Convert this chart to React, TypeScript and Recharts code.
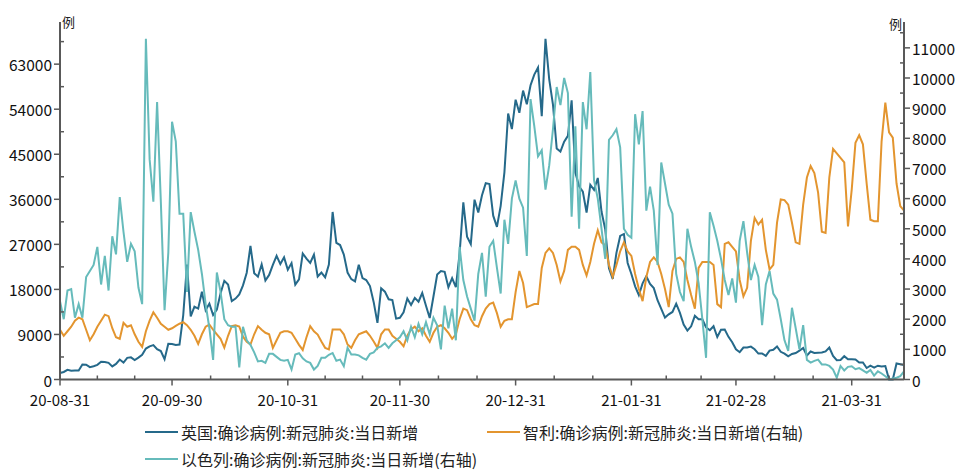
import { LineChart, Line, XAxis, YAxis } from 'recharts'

// x axis: month-end labels, 2020-08-31 is day 0
const monthEndLabels = ['20-08-31', '20-09-30', '20-10-31', '20-11-30', '20-12-31', '21-01-31', '21-02-28', '21-03-31']
const leftMajor = [0, 9000, 18000, 27000, 36000, 45000, 54000, 63000]
const rightMajor = [0, 1000, 2000, 3000, 4000, 5000, 6000, 7000, 8000, 9000, 10000, 11000]

// 英国 (left axis), daily from 2020-08-31 to 2021-04-14
const ukDaily = [
    1295, 1508, 1940, 1735, 1813, 1788, 2988, 2948, 2460, 2659, 2919, 3539, 3497, 3330, 2621, 3105,
    3991, 3395, 4322, 4422, 3899, 4368, 4926, 6178, 6634, 6874, 6042, 5693, 4044, 7143, 7108,
    6914, 6968, 12872, 22961, 12594, 14542, 14162, 17540, 13864, 15166, 12872, 13972, 17234, 19724, 18980,
    15650, 16171, 16982, 18804, 21331, 26688, 21242, 20530, 23012, 19790, 20890, 22885, 24701, 23065, 24405, 21915,
    23254, 18950, 20018, 25177, 24141, 23287, 24957, 20572, 21350, 20412, 22950, 33470, 27301, 26860, 24962,
    21363, 20051, 19609, 22915, 20252, 19875, 18662, 15450, 11299, 18213, 17555, 16022, 15871, 12155, 12330,
    13430, 16170, 14879, 16298, 15539, 17272, 14718, 12282, 16578, 20964, 21672, 21502, 18447, 20263, 18450,
    25161, 35383, 28507, 27052, 35928, 33364, 36804, 39237, 39036, 32725, 30501, 34693, 41385, 53135, 50023, 55892,
    53285, 57725, 54990, 58784, 60916, 62322, 52618, 68053, 59937, 54940, 46169, 45533, 47525, 48682, 55761,
    41346, 38598, 37535, 33355, 38905, 37892, 40261, 33552, 30004, 22195, 20089, 25308, 28680, 29079, 23275, 21088,
    18607, 16840, 19202, 20634, 19114, 18262, 15845, 14104, 12364, 13013, 13494, 15144, 13308, 10972,
    9765, 10625, 12718, 12057, 12027, 10406, 9834, 10641, 8489, 9938, 9985, 8523, 7434, 6035,
    5455, 6391, 6385, 6573, 6040, 5177, 5200, 4712, 5766, 5926, 6609, 5534, 5177, 4618, 5089,
    5294, 5758, 6303, 4802, 5587, 5312, 5342, 5379, 5605, 6397, 4715, 3862, 3900, 4654, 4052, 4040,
    4000, 3400, 3400, 2300, 2760, 2380, 2760, 2600, 2700, 0, 0, 3200, 3050, 2900,
]

// 智利 (right axis)
const chileDaily = [
    1650, 1450, 1600, 1750, 1950, 2050, 2000, 1650, 1300, 1500, 1750, 1950, 2150, 2100, 1700, 1400,
    1350, 1880, 1750, 1800, 1500, 1250, 1080, 1600, 1950, 2230, 2050, 1850, 1750, 1650, 1700,
    1780, 1850, 1900, 1800, 1650, 1450, 1180, 1500, 1750, 1820, 1650, 1500, 1350, 1060, 1450,
    1770, 1800, 1760, 1420, 1250, 1160, 1500, 1770, 1650, 1550, 1500, 1050, 1300, 1550, 1600, 1600,
    1550, 1350, 1150, 980, 1400, 1770, 1600, 1490, 1260, 1050, 1000, 1660, 1660, 1660, 1500,
    1160, 1050, 1300, 1500, 1550, 1600, 1450, 1260, 1050, 1500, 1660, 1660, 1450, 1350, 1250,
    1100, 1450, 1660, 1750, 1600, 1700, 1450, 1250, 1550, 1750, 1800, 1700, 1550, 1350, 1500,
    2000, 2350, 2300, 2000, 1800, 1750, 2100, 2350, 2500, 2550, 2200, 1750, 1950, 2000, 2000, 2900,
    3600, 3200, 2400, 2450, 2500, 2500, 3700, 4200, 4350, 4200, 3800, 3250, 3600, 4300,
    4400, 4400, 4300, 3800, 3450, 3900, 4500, 4950, 4550, 4450,
    3800, 3400, 3800, 4250, 4550, 4250, 4100, 3500, 3000, 2600,
    3400, 3900, 4050, 3900, 3500, 3000, 2400, 3600, 4000, 4050,
    3900, 3300, 2800, 2350, 3700, 3900, 3900, 3900, 3800, 2500,
    2400, 4500, 4550, 4400, 4250, 3300, 2760, 3040, 4600, 5360,
    5140, 5300, 4300, 3650, 3800, 5200, 5970, 5950, 5800, 5200,
    4550, 4500, 5800, 6700, 7080, 6850, 6200, 4900, 4860, 6700,
    7650, 7500, 7350, 7200, 5080, 6300, 7850, 8100, 7800, 6500,
    5300, 5250, 5250, 7900, 9180, 8200, 8020, 6500, 5750, 5600,
]

// 以色列 (right axis)
const israelDaily = [
    2600, 2000, 2950, 3000, 2050, 2500, 2050, 3400, 3600, 3800, 4400, 3150, 4100, 2950, 4750, 4150,
    6050, 4900, 3900, 4500, 4250, 3050, 2500, 11300, 7300, 5900, 9200, 5900, 2300, 4200, 8550,
    7900, 5500, 5500, 2900, 5550, 4900, 4300, 3500, 2500, 1700, 650, 3550, 2900, 2000, 1800,
    1750, 1750, 400, 1750, 1300, 1150, 900, 600, 620, 550,
    850, 850, 750, 650, 620, 650, 330, 830, 870, 700,
    600, 550, 330, 450, 720, 720, 820, 880, 620, 660,
    440, 1050, 830, 830, 800, 720, 660, 850, 900, 1050,
    1100, 1200, 1050, 1200, 1300, 1400,
    1600, 1300, 1750, 1400, 1850, 1500, 1900, 1500, 2050, 1800,
    1000, 2450, 1700, 2350, 1300, 4400, 3300, 2750, 2350, 1950,
    3500, 4200, 2750, 4400, 4600, 3700, 2850, 5300, 4500, 6000,
    6600, 6000, 5700, 4100, 9300, 8400, 7400, 7600, 6300, 7100,
    8300, 9700, 9100, 10000, 9500,
    5400, 8400, 5000, 9200, 8300, 10200, 6600, 6000, 5000, 4000,
    7950, 8100, 8300, 7700, 5000, 4800, 4700, 8800, 7800, 8900,
    5600, 6400, 5600, 3800, 7200, 6500, 5800, 5500, 3500, 2900,
    2600, 5000, 4400, 3900, 3200, 2000, 720, 5550, 5100, 4600,
    4000, 3300, 2800, 3350, 2550, 4600, 5250, 4200, 3300, 3800,
    3400, 1800, 3150, 3600, 2850, 2650, 2000, 1300, 950, 2380,
    1700, 1000, 1800, 650, 560, 620, 660, 500, 500, 450,
    330, 60, 450, 300, 420, 440, 340, 380, 300, 220,
    320, 130, 270, 200, 110, 10, 30, 60, 110, 270,
]

const rows = ukDaily.map((uk, day) => ({ day, uk, cl: chileDaily[day], il: israelDaily[day] }))

const DAY_MS = 86400000
const T0 = Date.UTC(2020, 7, 31)
const parseLabel = (s: string) => {
    const [yy, mm, dd] = s.split('-').map(Number)
    return { y: 2000 + yy, m: mm, d: dd }
}
const majorDays = monthEndLabels.map(s => {
    const { y, m, d } = parseLabel(s)
    return (Date.UTC(y, m - 1, d) - T0) / DAY_MS
})
const lastDay = rows.length - 1
// small ticks split every month in thirds
const minorDays: number[] = []
monthEndLabels.forEach((s, i) => {
    const { y, m } = parseLabel(s)
    const next = (Date.UTC(y, m + 1, 0) - T0) / DAY_MS
    const a = majorDays[i]
    for (const f of [1 / 3, 2 / 3]) {
        const t = a + (next - a) * f
        if (t <= lastDay) minorDays.push(t)
    }
})
const xTicks = [...majorDays, ...minorDays].sort((a, b) => a - b)

const withHalves = (major: number[], step: number) => {
    const out: number[] = []
    major.forEach(v => { out.push(v); out.push(v + step / 2) })
    return out
}
const leftTicks = withHalves(leftMajor, 9000)
const rightTicks = withHalves(rightMajor, 1000)

const AXIS = '#595959'
const FONT = "'Noto Sans CJK SC', 'Noto Sans', sans-serif"
const UK_COLOR = '#25698a'
const CL_COLOR = '#e3952f'
const IL_COLOR = '#66bbbb'

function XTick(props: any) {
    const { x, y, payload } = props
    const i = majorDays.indexOf(payload.value)
    if (i < 0) return <line x1={x} y1={y} x2={x} y2={y - 4} stroke={AXIS} strokeWidth={1.5} />
    return (
        <g>
            <line x1={x} y1={y} x2={x} y2={y + 6} stroke={AXIS} strokeWidth={1.5} />
            <text x={x} y={y + 20} textAnchor="middle" dominantBaseline="central" fontSize={15} fontFamily={FONT} fill="#111">
                {monthEndLabels[i]}
            </text>
        </g>
    )
}

function YTick(props: any) {
    const { x, y, payload, side, majors } = props
    const dir = side === 'left' ? -1 : 1
    if (!majors.includes(payload.value)) {
        return <line x1={x} y1={y} x2={x - dir * 4} y2={y} stroke={AXIS} strokeWidth={1.5} />
    }
    return (
        <g>
            <line x1={x} y1={y} x2={x + dir * 6} y2={y} stroke={AXIS} strokeWidth={1.5} />
            <text x={x + dir * 8} y={y} textAnchor={side === 'left' ? 'end' : 'start'} dominantBaseline="central" fontSize={15.5} fontFamily={FONT} fill="#111">
                {payload.value}
            </text>
        </g>
    )
}

function LegendItem({ color, text, left, top }: { color: string; text: string; left: number; top: number }) {
    return (
        <div style={{ position: 'absolute', left, top, display: 'flex', alignItems: 'center', whiteSpace: 'nowrap' }}>
            <span style={{ display: 'inline-block', width: 33, height: 2, background: color, marginRight: 3 }} />
            <span style={{ fontSize: 16, color: '#222', lineHeight: '20px' }}>{text}</span>
        </div>
    )
}

export default function App() {
    return (
        <div style={{ position: 'absolute', left: 0, top: 0, width: 963, height: 473, background: '#fff', fontFamily: FONT }}>
            <LineChart width={963} height={473} data={rows} margin={{ top: 22, right: 4, bottom: 63.5, left: 10 }}>
                <XAxis
                    dataKey="day"
                    type="number"
                    domain={[0, lastDay]}
                    ticks={xTicks}
                    interval={0}
                    height={30}
                    tickSize={0}
                    tickMargin={0}
                    tickLine={false}
                    axisLine={{ stroke: AXIS, strokeWidth: 2 }}
                    tick={(p: any) => <XTick {...p} />}
                />
                <YAxis
                    yAxisId="left"
                    orientation="left"
                    width={50}
                    domain={[0, 71420]}
                    ticks={leftTicks}
                    interval={0}
                    tickSize={0}
                    tickMargin={0}
                    tickLine={false}
                    axisLine={{ stroke: AXIS, strokeWidth: 2 }}
                    tick={(p: any) => <YTick {...p} side="left" majors={leftMajor} />}
                />
                <YAxis
                    yAxisId="right"
                    orientation="right"
                    width={55}
                    domain={[0, 11857]}
                    ticks={rightTicks}
                    interval={0}
                    tickSize={0}
                    tickMargin={0}
                    tickLine={false}
                    axisLine={{ stroke: AXIS, strokeWidth: 2 }}
                    tick={(p: any) => <YTick {...p} side="right" majors={rightMajor} />}
                />
                <Line yAxisId="left" dataKey="uk" type="linear" stroke={UK_COLOR} strokeWidth={2} dot={false} isAnimationActive={false} />
                <Line yAxisId="right" dataKey="cl" type="linear" stroke={CL_COLOR} strokeWidth={2} dot={false} isAnimationActive={false} />
                <Line yAxisId="right" dataKey="il" type="linear" stroke={IL_COLOR} strokeWidth={2} dot={false} isAnimationActive={false} />
            </LineChart>
            <span style={{ position: 'absolute', left: 62, top: 12, fontSize: 13, color: '#222' }}>例</span>
            <span style={{ position: 'absolute', left: 889, top: 14, fontSize: 13, color: '#222' }}>例</span>
            <LegendItem color={UK_COLOR} text="英国:确诊病例:新冠肺炎:当日新增" left={145} top={422} />
            <LegendItem color={CL_COLOR} text="智利:确诊病例:新冠肺炎:当日新增(右轴)" left={487} top={422} />
            <LegendItem color={IL_COLOR} text="以色列:确诊病例:新冠肺炎:当日新增(右轴)" left={145} top={449} />
        </div>
    )
}
